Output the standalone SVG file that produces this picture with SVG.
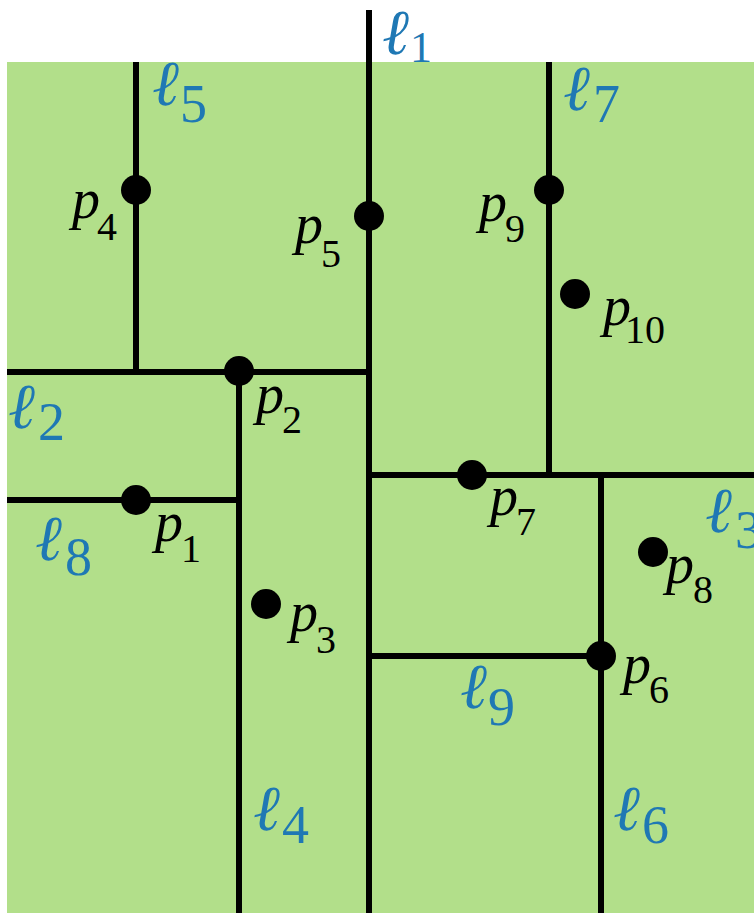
<svg xmlns="http://www.w3.org/2000/svg" width="754" height="913" viewBox="0 0 754 913">
<style>
.bg{fill:#b2df8a}
.ln{stroke:#000;stroke-width:6;fill:none;stroke-linecap:butt}
.pt{fill:#000}
.p{font-family:"Liberation Serif","DejaVu Serif",serif;font-style:italic;font-size:56px;fill:#000}
.ps{font-family:"Liberation Serif","DejaVu Serif",serif;font-size:40px;fill:#000}
.l{font-family:"Liberation Serif","DejaVu Serif",serif;font-style:italic;font-size:64px;fill:#1f78b4}
.ls{font-family:"Liberation Serif","DejaVu Serif",serif;font-size:54px;fill:#1f78b4}
</style>
<rect class="bg" x="7" y="62" width="747" height="851"/>
<g id="lines">
<g id="l1"><line class="ln" x1="369" y1="10" x2="369" y2="913"/><text class="l" x="382" y="54">ℓ</text><text class="ls" x="410" y="62" style="font-size:44px">1</text></g>
<g id="l2"><line class="ln" x1="7" y1="372" x2="369" y2="372"/><text class="l" x="8" y="428">ℓ</text><text class="ls" x="38" y="440">2</text></g>
<g id="l3"><line class="ln" x1="369" y1="475" x2="754" y2="475"/><text class="l" x="705" y="532">ℓ</text><text class="ls" x="735" y="548">3</text></g>
<g id="l4"><line class="ln" x1="239" y1="372" x2="239" y2="913"/><text class="l" x="253" y="830">ℓ</text><text class="ls" x="282" y="843">4</text></g>
<g id="l5"><line class="ln" x1="136" y1="62" x2="136" y2="372"/><text class="l" x="152" y="105">ℓ</text><text class="ls" x="180" y="122">5</text></g>
<g id="l6"><line class="ln" x1="601" y1="475" x2="601" y2="913"/><text class="l" x="613" y="830">ℓ</text><text class="ls" x="642" y="843">6</text></g>
<g id="l7"><line class="ln" x1="549" y1="62" x2="549" y2="475"/><text class="l" x="563" y="110">ℓ</text><text class="ls" x="593" y="122">7</text></g>
<g id="l8"><line class="ln" x1="7" y1="500" x2="239" y2="500"/><text class="l" x="35" y="560">ℓ</text><text class="ls" x="65" y="575">8</text></g>
<g id="l9"><line class="ln" x1="369" y1="656" x2="601" y2="656"/><text class="l" x="460" y="708">ℓ</text><text class="ls" x="488" y="725">9</text></g>
</g>
<g id="p1"><circle class="pt" cx="136" cy="500" r="15"/><text class="p" x="155" y="541">p</text><text class="ps" x="181" y="562">1</text></g>
<g id="p2"><circle class="pt" cx="239" cy="371" r="15"/><text class="p" x="256" y="413">p</text><text class="ps" x="282" y="433">2</text></g>
<g id="p3"><circle class="pt" cx="266" cy="604" r="15"/><text class="p" x="290" y="631">p</text><text class="ps" x="316" y="653">3</text></g>
<g id="p4"><circle class="pt" cx="136" cy="190" r="15"/><text class="p" x="72" y="218">p</text><text class="ps" x="97" y="240">4</text></g>
<g id="p5"><circle class="pt" cx="369" cy="216" r="15"/><text class="p" x="295" y="243">p</text><text class="ps" x="321" y="267">5</text></g>
<g id="p6"><circle class="pt" cx="601" cy="656" r="15"/><text class="p" x="623" y="683">p</text><text class="ps" x="649" y="703">6</text></g>
<g id="p7"><circle class="pt" cx="472" cy="475" r="15"/><text class="p" x="490" y="515">p</text><text class="ps" x="516" y="535">7</text></g>
<g id="p8"><circle class="pt" cx="653" cy="552" r="15"/><text class="p" x="666" y="583">p</text><text class="ps" x="693" y="603">8</text></g>
<g id="p9"><circle class="pt" cx="549" cy="190" r="15"/><text class="p" x="479" y="221">p</text><text class="ps" x="505" y="242">9</text></g>
<g id="p10"><circle class="pt" cx="575" cy="294" r="15"/><text class="p" x="603" y="325">p</text><text class="ps" x="625" y="343">10</text></g>
</svg>
